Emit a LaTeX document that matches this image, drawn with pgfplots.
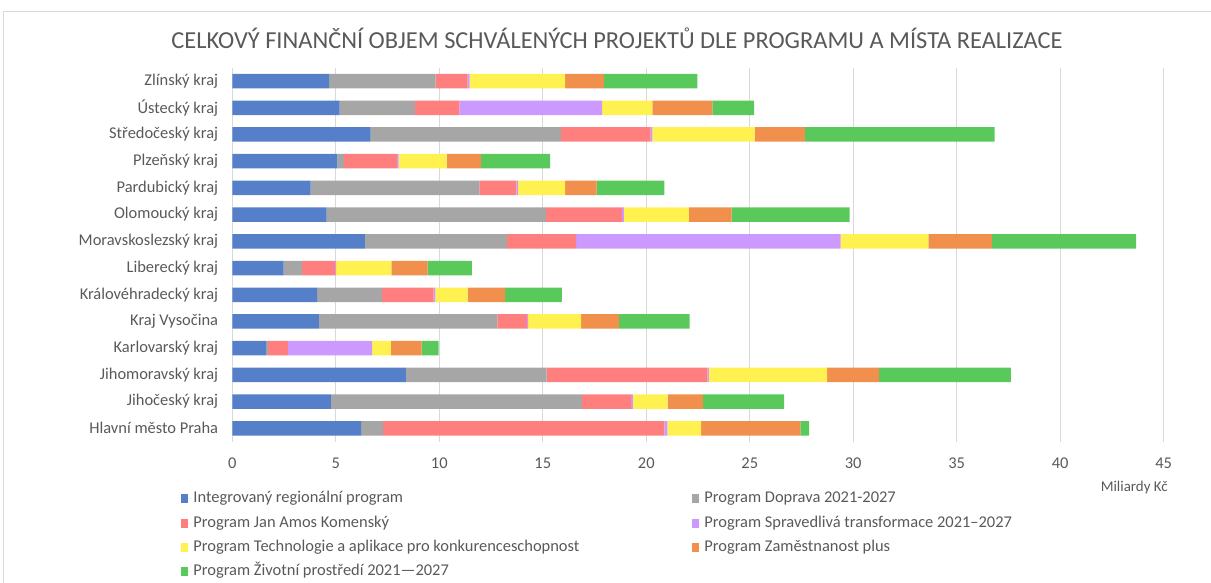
\documentclass[border=0pt]{standalone}
\usepackage{fontspec}
\setmainfont{Carlito}
\usepackage{pgfplots}
\pgfplotsset{compat=1.18}
\definecolor{cBlue}{HTML}{5580C9}
\definecolor{cGray}{HTML}{A6A6A6}
\definecolor{cRed}{HTML}{FF7F7F}
\definecolor{cPurple}{HTML}{CC99FF}
\definecolor{cYellow}{HTML}{FFF250}
\definecolor{cOrange}{HTML}{F0904C}
\definecolor{cGreen}{HTML}{59C95B}
\definecolor{txt}{HTML}{595959}
\definecolor{gridc}{HTML}{D9D9D9}
\begin{document}
\begin{tikzpicture}[x=1bp,y=1bp]
\path[use as bounding box] (-232.3,-141.3) rectangle (978.7,441.7);
\draw[gridc, line width=1bp] (-228.3,-141.3) -- (-228.3,430.2) -- (978.7,430.2);
\node[font=\fontsize{24.5}{29}\selectfont, text=txt] at (384.7,403.5) {CELKOVÝ FINANČNÍ OBJEM SCHVÁLENÝCH PROJEKTŮ DLE PROGRAMU A MÍSTA REALIZACE};
\node[font=\fontsize{15}{17}\selectfont, text=txt, anchor=east] at (939,-46) {Miliardy Kč};
\begin{axis}[
  scale only axis, width=931.4bp, height=374bp,
  xbar stacked, bar width=14.5bp,
  xmin=0, xmax=45, ymin=-0.5, ymax=13.5,
  xtick={0,5,...,45},
  ytick={0,...,13},
  yticklabels={Hlavní město Praha, Jihočeský kraj, Jihomoravský kraj, Karlovarský kraj, Kraj Vysočina, Královéhradecký kraj, Liberecký kraj, Moravskoslezský kraj, Olomoucký kraj, Pardubický kraj, Plzeňský kraj, Středočeský kraj, Ústecký kraj, Zlínský kraj},
  /pgf/number format/assume math mode=true,
  xmajorgrids, grid style={gridc, line width=0.8bp},
  axis lines*=left,
  x axis line style={draw=none},
  y axis line style={draw=gridc, line width=0.8bp},
  major tick length=0pt,
  tick label style={font=\fontsize{16.5}{19}\selectfont, text=txt},
  yticklabel style={inner xsep=0pt, xshift=-14bp},
  xticklabel style={yshift=-13bp},
  legend columns=2,
  legend cell align=left,
  legend style={draw=none, fill=none, at={(-0.058,-0.123)}, anchor=north west,
    font=\fontsize{16.5}{19}\selectfont, text=txt,
    nodes={inner ysep=2bp, text height=11bp, text depth=3bp},
    row sep=6.2bp,
    /tikz/column 2/.style={column sep=111bp}},
  legend image code/.code={\fill[#1] (0bp,-4.5bp) rectangle (7bp,4.5bp); \path (0bp,0bp) -- (10bp,0bp);},
  every axis plot/.append style={draw=none},
]
% Integrovany regionalni program
\addplot[fill=cBlue] coordinates {(6.23,0) (4.76,1) (8.39,2) (1.63,3) (4.18,4) (4.10,5) (2.48,6) (6.40,7) (4.56,8) (3.79,9) (5.08,10) (6.68,11) (5.19,12) (4.68,13)};
% Doprava
\addplot[fill=cGray] coordinates {(1.06,0) (12.14,1) (6.80,2) (0.10,3) (8.63,4) (3.14,5) (0.89,6) (6.86,7) (10.60,8) (8.15,9) (0.32,10) (9.19,11) (3.63,12) (5.14,13)};
% JAK
\addplot[fill=cRed] coordinates {(13.58,0) (2.37,1) (7.76,2) (0.95,3) (1.42,4) (2.49,5) (1.60,6) (3.35,7) (3.66,8) (1.79,9) (2.55,10) (4.34,11) (2.15,12) (1.55,13)};
% Spravedliva transformace
\addplot[fill=cPurple] coordinates {(0.15,0) (0.08,1) (0.08,2) (4.08,3) (0.06,4) (0.08,5) (0.05,6) (12.78,7) (0.10,8) (0.08,9) (0.08,10) (0.08,11) (6.90,12) (0.10,13)};
% TAK
\addplot[fill=cYellow] coordinates {(1.63,0) (1.68,1) (5.71,2) (0.90,3) (2.56,4) (1.56,5) (2.66,6) (4.24,7) (3.14,8) (2.27,9) (2.32,10) (4.95,11) (2.42,12) (4.61,13)};
% Zamestnanost plus
\addplot[fill=cOrange] coordinates {(4.79,0) (1.70,1) (2.51,2) (1.49,3) (1.84,4) (1.81,5) (1.76,6) (3.07,7) (2.07,8) (1.52,9) (1.67,10) (2.42,11) (2.90,12) (1.89,13)};
% Zivotni prostredi
\addplot[fill=cGreen] coordinates {(0.43,0) (3.93,1) (6.37,2) (0.82,3) (3.41,4) (2.74,5) (2.14,6) (6.97,7) (5.69,8) (3.27,9) (3.33,10) (9.17,11) (2.02,12) (4.50,13)};
\legend{Integrovaný regionální program, Program Doprava 2021-2027, Program Jan Amos Komenský, Program Spravedlivá transformace 2021–2027, Program Technologie a aplikace pro konkurenceschopnost, Program Zaměstnanost plus, Program Životní prostředí 2021—2027}
\end{axis}
\end{tikzpicture}
\end{document}
